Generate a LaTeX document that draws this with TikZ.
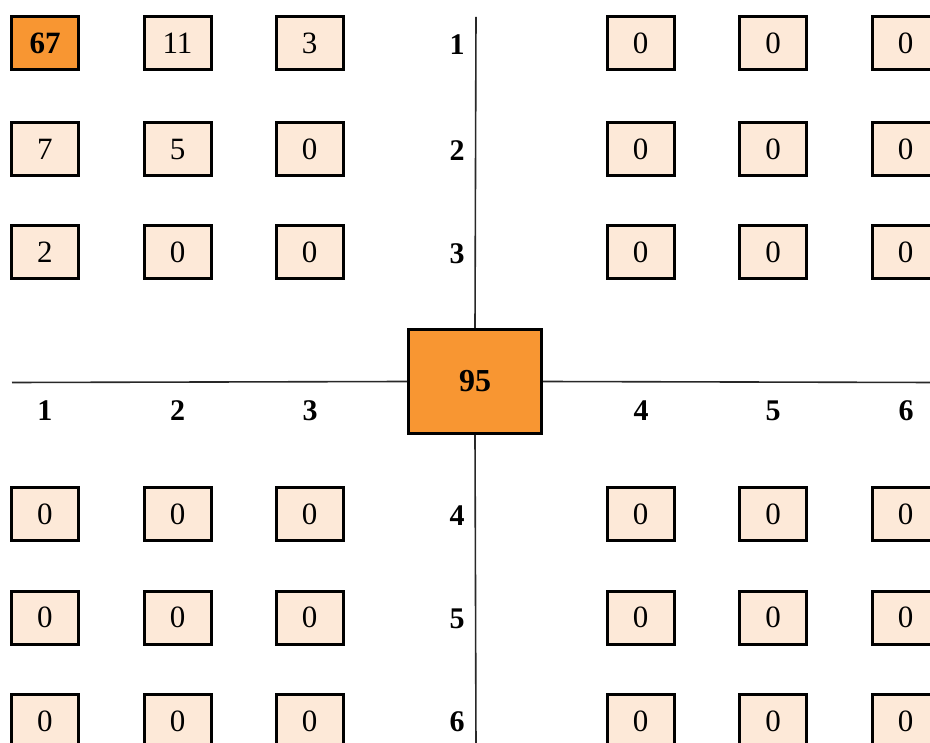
\documentclass[tikz,border=0pt]{standalone}
\usepackage{fontspec}
\setmainfont{Liberation Serif}
\definecolor{boxorange}{RGB}{248,150,50}
\definecolor{boxlight}{RGB}{253,233,216}
\definecolor{axisgray}{RGB}{40,40,40}
\begin{document}
\begin{tikzpicture}[x=1pt,y=-1pt,
  cell/.style={draw=black,line width=3pt,fill=boxlight,minimum width=67pt,minimum height=53pt,inner sep=0pt,font=\fontsize{31}{34}\selectfont},
  hot/.style={cell,fill=boxorange,font=\fontsize{31}{34}\selectfont\bfseries},
  center/.style={draw=black,line width=3pt,fill=boxorange,minimum width=133pt,minimum height=104pt,inner sep=0pt,font=\fontsize{32}{35}\selectfont\bfseries},
  lbl/.style={font=\fontsize{30}{33}\selectfont\bfseries,inner sep=0pt},
  axis/.style={draw=axisgray,line width=1.6pt}]
\useasboundingbox (0,0) rectangle (930,743);
\clip (0,0) rectangle (930,743);
% axes
\coordinate (hl) at (12,382.5);
\coordinate (hr) at (935,382.5);
\coordinate (vt) at (476,17);
\coordinate (vb) at (476,748);
\node[center] (c) at (475,381.5) {95};
\draw[axis] (hl) -- (c.west);
\draw[axis] (c.east) -- (hr);
\draw[axis] (vt) -- (c.north);
\draw[axis] (c.south) -- (vb);
% top-left quadrant
\node[hot] (tl11) at (45,43) {67};
\node[cell] (tl12) at (177.5,43) {11};
\node[cell] (tl13) at (309.5,43) {3};
\node[cell] (tl21) at (45,149.5) {7};
\node[cell] (tl22) at (177.5,149.5) {5};
\node[cell] (tl23) at (309.5,149.5) {0};
\node[cell] (tl31) at (45,252.5) {2};
\node[cell] (tl32) at (177.5,252.5) {0};
\node[cell] (tl33) at (309.5,252.5) {0};
% top-right quadrant
\node[cell] (tr11) at (640.5,43) {0};
\node[cell] (tr12) at (773,43) {0};
\node[cell] (tr13) at (905.5,43) {0};
\node[cell] (tr21) at (640.5,149.5) {0};
\node[cell] (tr22) at (773,149.5) {0};
\node[cell] (tr23) at (905.5,149.5) {0};
\node[cell] (tr31) at (640.5,252.5) {0};
\node[cell] (tr32) at (773,252.5) {0};
\node[cell] (tr33) at (905.5,252.5) {0};
% bottom-left quadrant
\node[cell] (bl11) at (45,514) {0};
\node[cell] (bl12) at (177.5,514) {0};
\node[cell] (bl13) at (309.5,514) {0};
\node[cell] (bl21) at (45,617.5) {0};
\node[cell] (bl22) at (177.5,617.5) {0};
\node[cell] (bl23) at (309.5,617.5) {0};
\node[cell] (bl31) at (45,721) {0};
\node[cell] (bl32) at (177.5,721) {0};
\node[cell] (bl33) at (309.5,721) {0};
% bottom-right quadrant
\node[cell] (br11) at (640.5,514) {0};
\node[cell] (br12) at (773,514) {0};
\node[cell] (br13) at (905.5,514) {0};
\node[cell] (br21) at (640.5,617.5) {0};
\node[cell] (br22) at (773,617.5) {0};
\node[cell] (br23) at (905.5,617.5) {0};
\node[cell] (br31) at (640.5,721) {0};
\node[cell] (br32) at (773,721) {0};
\node[cell] (br33) at (905.5,721) {0};
% row labels
\node[lbl] (r1) at (457,45) {1};
\node[lbl] (r2) at (457,151) {2};
\node[lbl] (r3) at (457,254) {3};
\node[lbl] (r4) at (457,516) {4};
\node[lbl] (r5) at (457,619) {5};
\node[lbl] (r6) at (457,722) {6};
% column labels
\node[lbl] (k1) at (45,411) {1};
\node[lbl] (k2) at (177.5,411) {2};
\node[lbl] (k3) at (310,411) {3};
\node[lbl] (k4) at (641,411) {4};
\node[lbl] (k5) at (773,411) {5};
\node[lbl] (k6) at (906,411) {6};
\end{tikzpicture}
\end{document}
